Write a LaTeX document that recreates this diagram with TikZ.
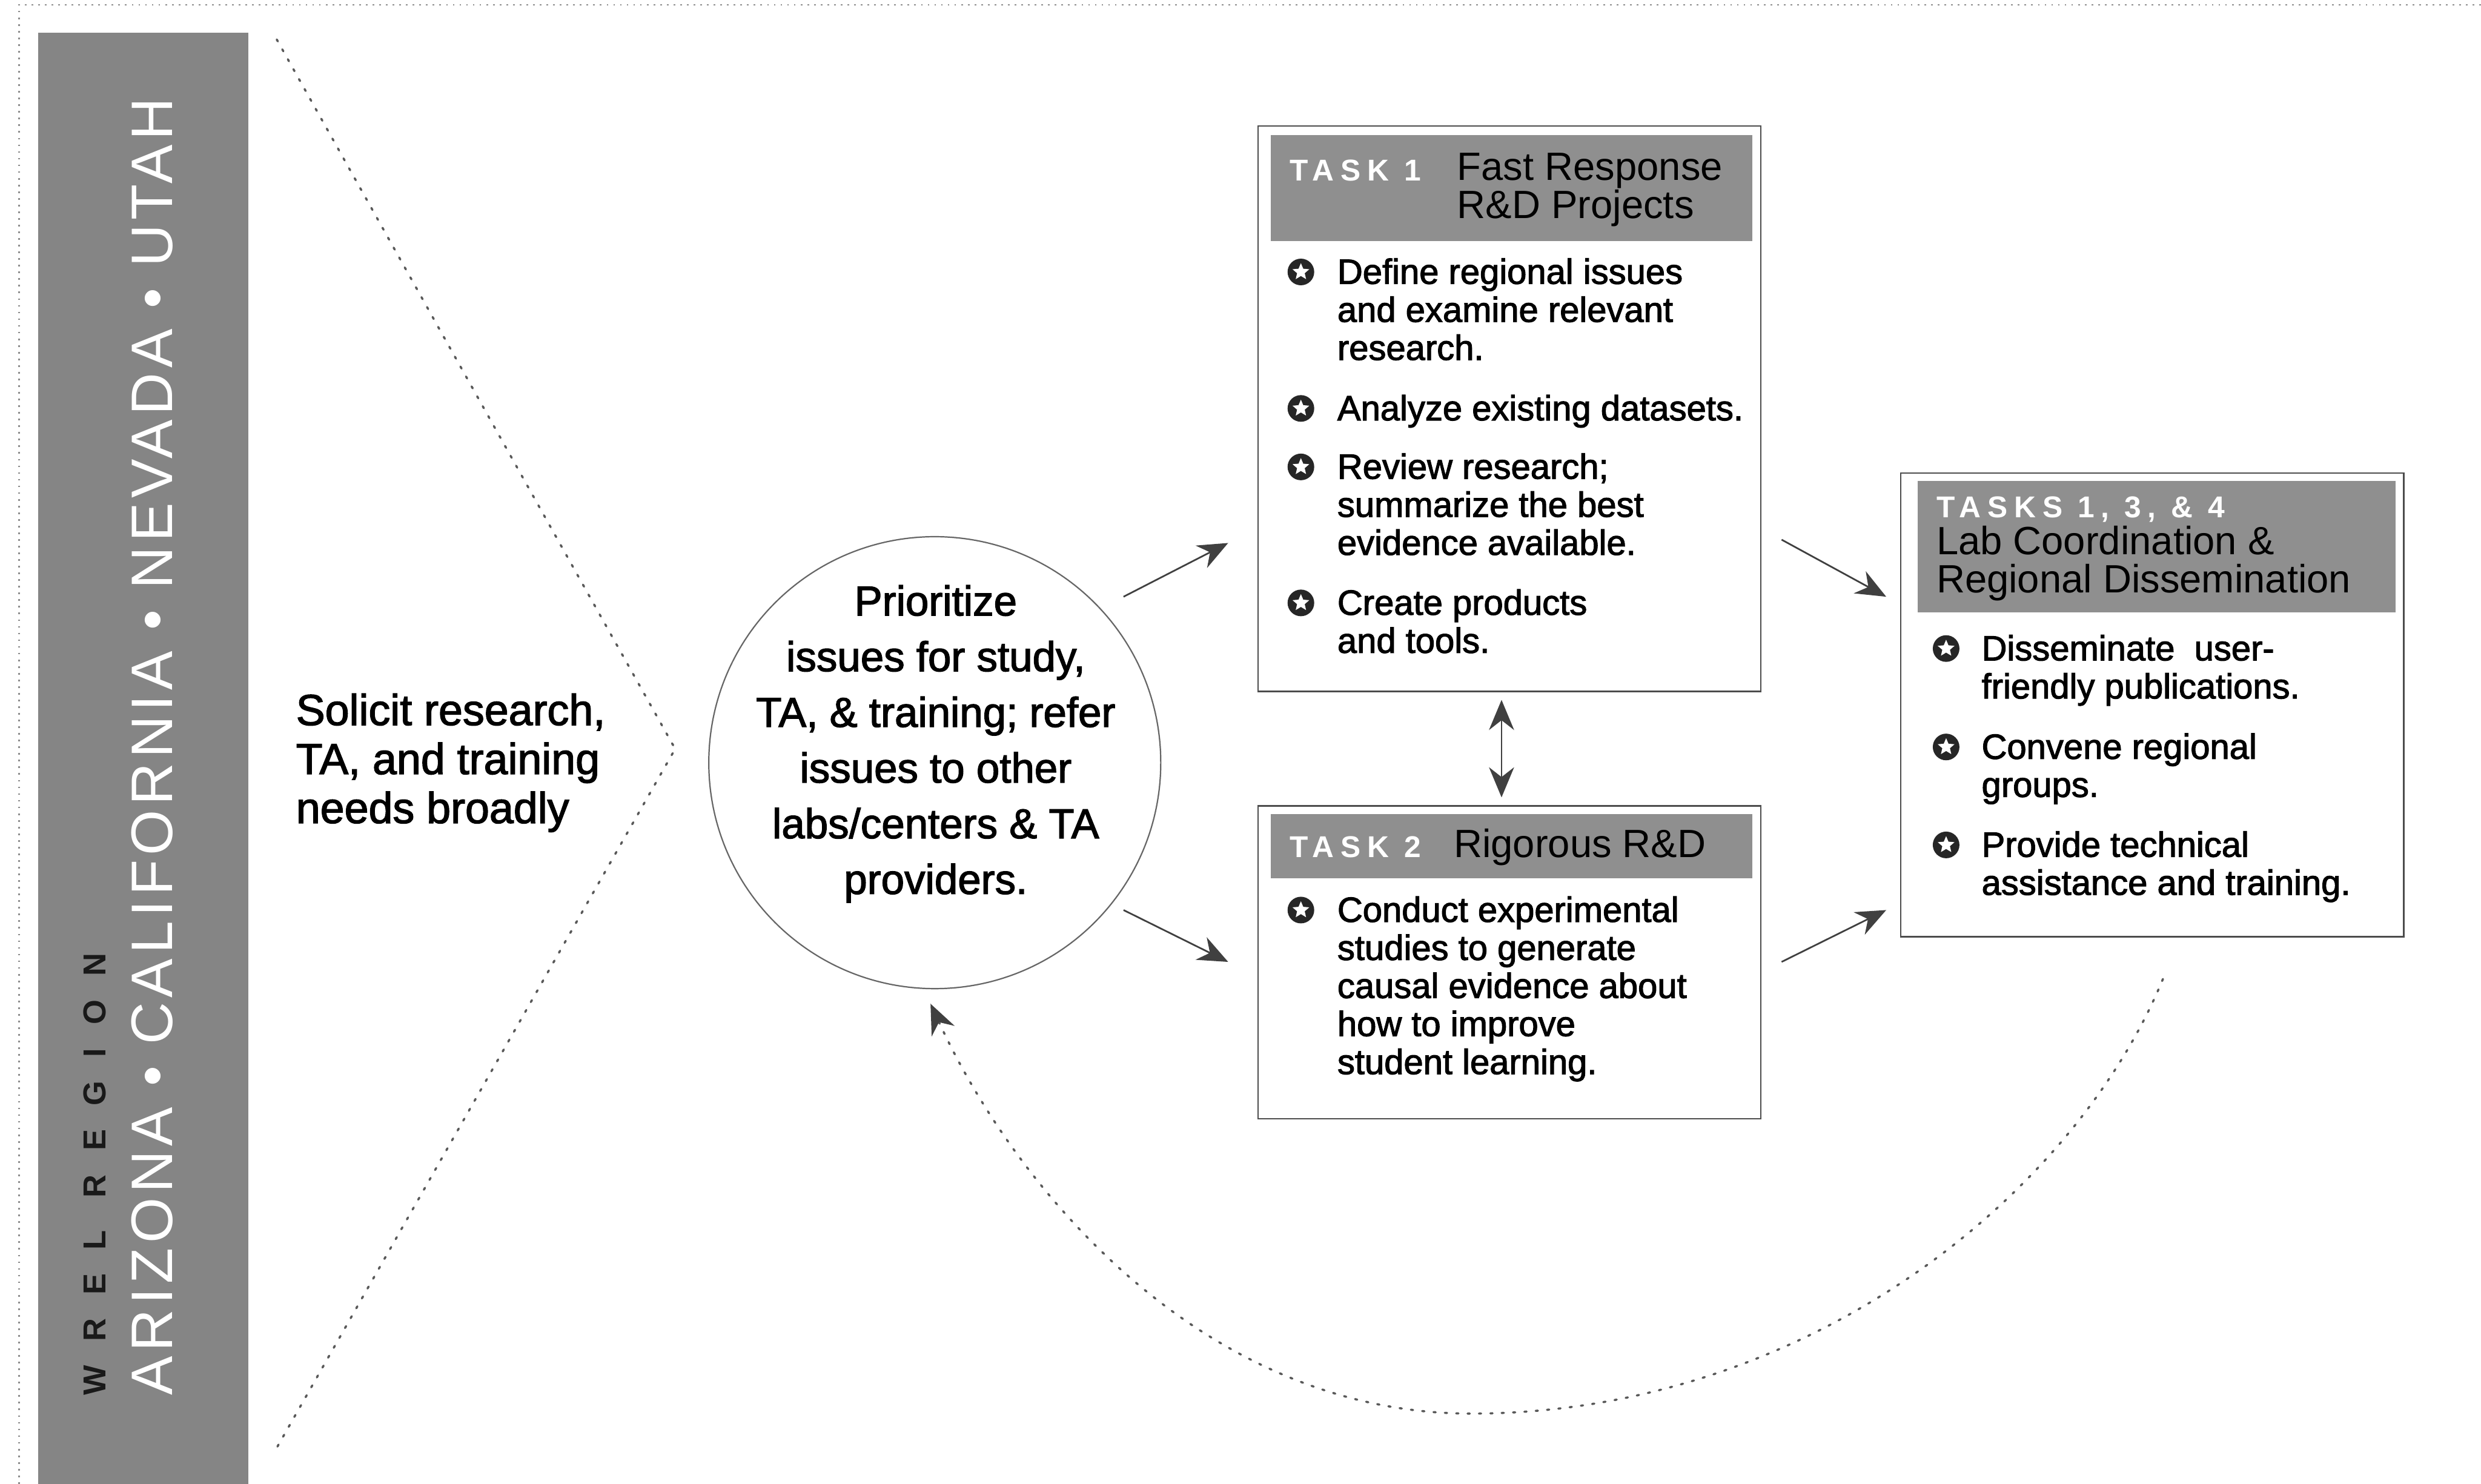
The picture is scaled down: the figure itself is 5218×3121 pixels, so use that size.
\documentclass[tikz,border=0pt]{standalone}
\usepackage{fontspec}
\setmainfont{Liberation Sans}
\newfontfamily\medf{Liberation Sans}[FakeBold=2]
\newfontfamily\labf{Liberation Sans}[LetterSpace=22]
\newfontfamily\bandf{Liberation Sans}[LetterSpace=8]
\newfontfamily\wrelf{Liberation Sans}[LetterSpace=75]
\usetikzlibrary{shapes.geometric,arrows.meta}
\definecolor{bandgray}{gray}{0.52}
\definecolor{headgray}{gray}{0.56}
\tikzset{
  dotline/.style={draw=black!65, line width=1.3pt, dash pattern=on 1.3pt off 5.5pt, line cap=round},
  dotarrow/.style={dotline, -{Stealth[length=18pt,width=15pt,black!75]}},
  arr/.style={draw=black!75, line width=1pt, -{Stealth[length=18pt,width=15pt]}},
  dblarr/.style={draw=black!75, line width=1pt, {Stealth[length=18pt,width=15pt]}-{Stealth[length=18pt,width=15pt]}},
  taskbox/.style={draw=black!70, line width=0.9pt, fill=white, inner sep=0, minimum width=10.57cm},
  headbox/.style={fill=headgray, inner sep=0, minimum width=10.12cm},
  lab/.style={anchor=base west, inner sep=0, text=white, font=\labf\bfseries\fontsize{18}{20}\selectfont},
  tit/.style={anchor=base west, inner sep=0, align=left, text=black, font=\fontsize{23.6}{22.8}\selectfont},
  btxt/.style={anchor=base west, inner sep=0, align=left, font=\medf\fontsize{21}{22.76}\selectfont},
  bulicon/.pic={
    \node[circle, fill=black!85, minimum size=0.56cm, inner sep=0] (-c) at (0,0) {};
    \node[star, star points=5, star point ratio=2.2, fill=white, minimum size=0.37cm, inner sep=0] (-s) at (0,0) {};
  }
}
\begin{document}
\begin{tikzpicture}[x=0.01cm,y=-0.01cm]
\useasboundingbox (0,0) rectangle (5218,3121);
\fill[white] (0,0) rectangle (5218,3121);
% outer dotted frame
\coordinate (frTR) at (5218,10);
\coordinate (frTL) at (40,10);
\coordinate (frBL) at (40,3121);
\draw[draw=black!45, line width=0.8pt, dash pattern=on 1pt off 3pt] (frTR) -- (frTL) -- (frBL);
% band
\node[fill=bandgray, inner sep=0, minimum width=4.42cm, minimum height=30.51cm] (band) at (301,1595.5) {};
\node[rotate=90, anchor=base west, inner sep=0, text=white, font=\bandf\fontsize{35}{38}\selectfont] (states) at (362,2935) {ARIZONA • CALIFORNIA • NEVADA • UTAH};
\node[rotate=90, anchor=base west, inner sep=0, text=black!90, font=\wrelf\bfseries\fontsize{19}{20}\selectfont] (wrel) at (222,2935) {WREL REGION};
% chevron
\coordinate (chtop) at (582,83);
\coordinate (chapex) at (1420,1575);
\coordinate (chbot) at (582,3045);
\draw[dotline] (chtop) -- (chapex) -- (chbot);
% solicit (base = last line)
\node[anchor=base west, inner sep=0, align=left, font=\medf\fontsize{26}{29.3}\selectfont] (solicit) at (622,1731) {Solicit research,\\TA, and training\\needs broadly};
% circle
\node[circle, draw=black!60, line width=0.8pt, minimum size=9.5cm, inner sep=0] (prio) at (1966,1604) {};
\node[anchor=base, inner sep=0, align=center, font=\medf\fontsize{25}{33.3}\selectfont] (priotext) at (1968,1880) {Prioritize\\issues for study,\\TA, \& training; refer\\issues to other\\labs/centers \& TA\\providers.};
% task 1
\node[taskbox, minimum height=11.89cm] (t1) at (3174.5,859.5) {};
\node[headbox, minimum height=2.23cm] (h1) at (3179,395.5) {};
\node[lab] (l1) at (2712,380) {TASK 1};
\node[tit] (ti1) at (3064,459) {Fast Response\\R\&D Projects};
\pic (b11) at (2736,572) {bulicon};
\node[btxt] (x11) at (2812,757) {Define regional issues\\and examine relevant\\research.};
\pic (b12) at (2736,859) {bulicon};
\node[btxt] (x12) at (2812,884) {Analyze existing datasets.};
\pic (b13) at (2736,982) {bulicon};
\node[btxt] (x13) at (2812,1167) {Review research;\\summarize the best\\evidence available.};
\pic (b14) at (2736,1268) {bulicon};
\node[btxt] (x14) at (2812,1373) {Create products\\and tools.};
% task 2
\node[taskbox, minimum height=6.58cm] (t2) at (3174.5,2024) {};
\node[headbox, minimum height=1.35cm] (h2) at (3179,1779.5) {};
\node[lab] (l2) at (2712,1803) {TASK 2};
\node[tit] (ti2) at (3057,1803) {Rigorous R\&D};
\pic (b21) at (2736,1914) {bulicon};
\node[btxt] (x21) at (2812,2259) {Conduct experimental\\studies to generate\\causal evidence about\\how to improve\\student learning.};
% tasks 1,3,4
\node[taskbox, minimum height=9.75cm] (t3) at (4526.5,1482.5) {};
\node[headbox, minimum width=10.05cm, minimum height=2.76cm] (h3) at (4535.5,1150) {};
\node[lab] (l3) at (4072,1088) {TASKS 1, 3, \& 4};
\node[tit] (ti3) at (4072,1247) {Lab Coordination \&\\Regional Dissemination};
\pic (b31) at (4093,1364) {bulicon};
\node[btxt] (x31) at (4167,1469) {Disseminate\ \ user-\\friendly publications.};
\pic (b32) at (4093,1571) {bulicon};
\node[btxt] (x32) at (4167,1676) {Convene regional\\groups.};
\pic (b33) at (4093,1777) {bulicon};
\node[btxt] (x33) at (4167,1882) {Provide technical\\assistance and training.};
% arrows
\coordinate (a1s) at (2363,1255); \coordinate (a1e) at (2583,1142);
\coordinate (a2s) at (2363,1914); \coordinate (a2e) at (2583,2023);
\coordinate (a3s) at (3747,1135); \coordinate (a3e) at (3967,1255);
\coordinate (a4s) at (3747,2023); \coordinate (a4e) at (3967,1914);
\coordinate (dv1) at (3158,1472); \coordinate (dv2) at (3158,1677);
\draw[arr] (a1s) -- (a1e);
\draw[arr] (a2s) -- (a2e);
\draw[arr] (a3s) -- (a3e);
\draw[arr] (a4s) -- (a4e);
\draw[dblarr] (dv1) -- (dv2);
% return curve
\coordinate (cs) at (4549,2059);
\coordinate (cb) at (3094,2973);
\coordinate (ce) at (1957,2111);
\draw[dotarrow] (cs) .. controls (4359,2519) and (3794,2973) .. (cb) .. controls (2544,2973) and (2146,2521) .. (ce);
\end{tikzpicture}
\end{document}
